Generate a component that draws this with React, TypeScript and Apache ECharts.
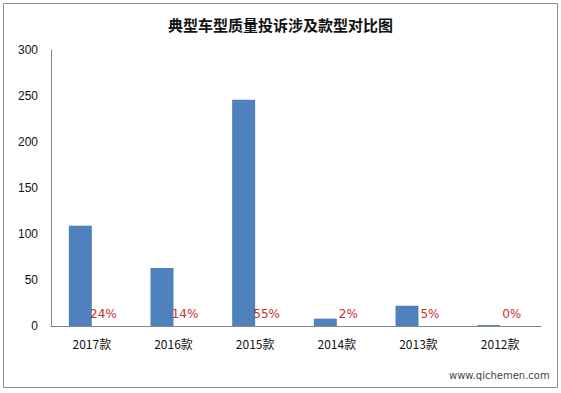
import React, { useEffect, useRef } from "react";
import * as echarts from "echarts";

const title = "典型车型质量投诉涉及款型对比图";
const categories = ["2017款", "2016款", "2015款", "2014款", "2013款", "2012款"];
const complaints = [109, 63, 246, 8, 22, 1];
const shares = ["24%", "14%", "55%", "2%", "5%", "0%"];
const yTicks = { min: 0, max: 300, interval: 50 };
const watermark = "www.qichemen.com";

export default function App() {
  const ref = useRef<HTMLDivElement>(null);
  useEffect(() => {
    if (!ref.current) return;
    const chart = echarts.init(ref.current, undefined, { renderer: "svg" });
    chart.setOption({
      animation: false,
      backgroundColor: "#ffffff",
      title: {
        text: title,
        left: "center",
        top: 12,
        textStyle: {
          fontFamily: "Noto Sans CJK SC",
          fontSize: 15,
          fontWeight: "bold",
          color: "#111",
        },
      },
      grid: { left: 51, right: 20, top: 50, bottom: 67 },
      xAxis: {
        type: "category",
        data: categories,
        axisLine: { lineStyle: { color: "#868686", width: 1 } },
        axisTick: { show: false },
        axisLabel: {
          margin: 11,
          fontSize: 12,
          color: "#111",
          fontFamily: "Noto Sans CJK SC",
        },
      },
      yAxis: {
        type: "value",
        min: yTicks.min,
        max: yTicks.max,
        interval: yTicks.interval,
        axisLine: { show: true, lineStyle: { color: "#868686", width: 1 } },
        axisTick: { show: false },
        splitLine: { show: false },
        axisLabel: {
          margin: 13,
          fontSize: 12,
          color: "#111",
          fontFamily: "Liberation Sans",
        },
      },
      series: [
        {
          type: "bar",
          data: complaints,
          barWidth: 23,
          barGap: "0%",
          itemStyle: { color: "#4F81BD" },
        },
        {
          type: "bar",
          data: complaints.map(() => 0),
          barWidth: 23,
          itemStyle: { color: "transparent" },
          label: {
            show: true,
            position: "top",
            distance: 6,
            formatter: (p: any) => shares[p.dataIndex],
            color: "#C8312E",
            fontSize: 12,
            fontFamily: "DejaVu Sans",
          },
        },
      ],
      graphic: [
        {
          type: "rect",
          shape: { x: 3.5, y: 3.5, width: 554, height: 384 },
          style: { fill: "none", stroke: "#8c8c8c", lineWidth: 1 },
          silent: true,
        },
        {
          type: "text",
          x: 449,
          y: 370,
          style: {
            text: watermark,
            fill: "#444",
            fontSize: 10,
            fontFamily: "DejaVu Sans",
          },
          silent: true,
        },
      ],
    });
    return () => chart.dispose();
  }, []);
  return (
    <div
      ref={ref}
      style={{ position: "absolute", left: 0, top: 0, width: 561, height: 393 }}
    />
  );
}
